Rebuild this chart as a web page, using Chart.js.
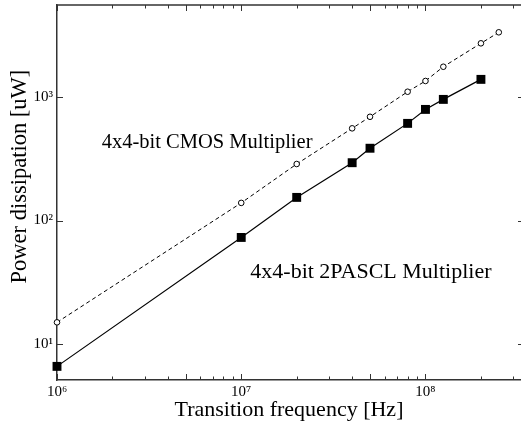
<!DOCTYPE html>
<html>
<head>
<meta charset="utf-8">
<script src="https://cdn.jsdelivr.net/npm/chart.js@4/dist/chart.umd.min.js"></script>
<style>
  body { margin: 0; background: #fff; }
  canvas { display: block; }
</style>
</head>
<body>
<canvas id="powerChart" width="521" height="426"></canvas>
<script>
// data (log-log)
var cmosFreq = [1e6, 1e7, 2e7, 4e7, 5e7, 8e7, 1e8, 1.25e8, 2e8, 2.5e8];
var cmosPower = [15, 139, 287, 558, 692, 1104, 1349, 1759, 2722, 3342];
var pasclFreq = [1e6, 1e7, 2e7, 4e7, 5e7, 8e7, 1e8, 1.25e8, 2e8];
var pasclPower = [6.6, 73, 154, 294, 385, 612, 794, 957, 1390];

var xDecades = [1e6, 1e7, 1e8];
var xTickLabels = ["10\u2076", "10\u2077", "10\u2078"];
var yDecades = [1e1, 1e2, 1e3];
var yTickLabels = ["10\u00b9", "10\u00b2", "10\u00b3"];

var cmosLabel = "4x4-bit CMOS Multiplier";
var pasclLabel = "4x4-bit 2PASCL Multiplier";
var yTitle = "Power dissipation [uW]";

var serif = "'Liberation Serif', 'Times New Roman', serif";
var axisColor = "#333";

function toPoints(xs, ys) {
  var pts = [];
  for (var i = 0; i < xs.length; ++i) {
    pts.push({ x: xs[i], y: ys[i] });
  }
  return pts;
}

function labelFor(value, values, labels) {
  for (var i = 0; i < values.length; ++i) {
    if (Math.abs(value / values[i] - 1) < 1e-6) return labels[i];
  }
  return "";
}

// inward tick marks on all four sides, top frame line, curve labels, y title
var framePlugin = {
  id: "frame",
  afterDraw: function (chart) {
    var ctx = chart.ctx;
    var area = chart.chartArea;
    var xs = chart.scales.x;
    var ys = chart.scales.y;
    ctx.save();
    ctx.strokeStyle = axisColor;
    ctx.lineWidth = 1.5;
    ctx.beginPath();
    ctx.moveTo(area.left, area.top);
    ctx.lineTo(area.right, area.top);
    ctx.stroke();

    ctx.lineWidth = 1;
    ctx.beginPath();
    xs.ticks.forEach(function (t) {
      var m = t.value / Math.pow(10, Math.floor(Math.log10(t.value) + 1e-9));
      m = Math.round(m * 100) / 100;
      if (m !== Math.round(m)) return;
      var len = m === 1 || m === 5 ? 6 : 3.5;
      var px = Math.round(xs.getPixelForValue(t.value)) + 0.5;
      ctx.moveTo(px, area.bottom);
      ctx.lineTo(px, area.bottom - len);
      ctx.moveTo(px, area.top);
      ctx.lineTo(px, area.top + len);
    });
    ys.ticks.forEach(function (t) {
      var py = Math.round(ys.getPixelForValue(t.value)) + 0.5;
      ctx.moveTo(area.left, py);
      ctx.lineTo(area.left + 6, py);
      ctx.moveTo(area.right, py);
      ctx.lineTo(area.right - 3, py);
    });
    ctx.stroke();

    ctx.fillStyle = "#000";
    ctx.textAlign = "left";
    ctx.textBaseline = "middle";
    ctx.font = "20.5px " + serif;
    ctx.fillText(cmosLabel, xs.getPixelForValue(1.75e6), ys.getPixelForValue(425));
    ctx.font = "22px " + serif;
    ctx.fillText(pasclLabel, xs.getPixelForValue(1.12e7), ys.getPixelForValue(38.5));

    // y axis title, a bit above the plot centre like the original
    ctx.translate(25.5, ys.getPixelForValue(227));
    ctx.rotate(-Math.PI / 2);
    ctx.textAlign = "center";
    ctx.textBaseline = "alphabetic";
    ctx.font = "22.5px " + serif;
    ctx.fillText(yTitle, 0, 0);
    ctx.restore();
  },
};

var ctx = document.getElementById("powerChart").getContext("2d");
var chart = new Chart(ctx, {
  type: "line",
  data: {
    datasets: [
      {
        label: cmosLabel,
        data: toPoints(cmosFreq, cmosPower),
        borderColor: "#000",
        borderWidth: 1,
        borderDash: [4, 3],
        pointStyle: "circle",
        pointRadius: 2.8,
        pointBackgroundColor: "#fff",
        pointBorderColor: "#000",
        pointBorderWidth: 1,
        clip: false,
      },
      {
        label: pasclLabel,
        data: toPoints(pasclFreq, pasclPower),
        borderColor: "#000",
        borderWidth: 1.2,
        pointStyle: "rect",
        pointRadius: 6.3,
        pointBackgroundColor: "#000",
        pointBorderColor: "#000",
        pointBorderWidth: 0,
        clip: false,
      },
    ],
  },
  options: {
    responsive: false,
    animation: false,
    events: [],
    // autoPadding off, otherwise the big square markers push the plot edge in
    layout: { autoPadding: false, padding: { top: 5, right: 0, left: 0, bottom: 0 } },
    plugins: {
      legend: { display: false },
      tooltip: { enabled: false },
    },
    scales: {
      x: {
        type: "logarithmic",
        position: "bottom",
        min: 1e6,
        max: 3.3e8,
        grid: { display: false },
        border: { display: true, color: axisColor, width: 1.5 },
        afterBuildTicks: function (scale) {
          var ticks = [];
          for (var e = 6; e <= 8; ++e) {
            for (var m = 1; m <= 9; ++m) {
              var v = m * Math.pow(10, e);
              if (v <= scale.max) ticks.push({ value: v });
            }
          }
          scale.ticks = ticks;
        },
        afterFit: function (scale) {
          scale.height = 46;
          scale.paddingLeft = 0;
          scale.paddingRight = 0;
        },
        ticks: {
          autoSkip: false,
          maxRotation: 0,
          padding: -5,
          color: "#000",
          font: { family: serif, size: 15 },
          callback: function (value) {
            return labelFor(value, xDecades, xTickLabels);
          },
        },
        title: {
          display: true,
          text: "Transition frequency [Hz]",
          color: "#000",
          font: { family: serif, size: 22 },
          padding: { top: 0, bottom: 3 },
        },
      },
      y: {
        type: "logarithmic",
        position: "left",
        min: 5.12,
        max: 5560,
        grid: { display: false },
        border: { display: true, color: axisColor, width: 1.5 },
        afterBuildTicks: function (scale) {
          scale.ticks = yDecades.map(function (v) {
            return { value: v };
          });
        },
        afterFit: function (scale) {
          scale.width = 57;
          scale.paddingTop = 0;
          scale.paddingBottom = 0;
        },
        ticks: {
          autoSkip: false,
          padding: -4,
          color: "#000",
          font: { family: serif, size: 15 },
          callback: function (value) {
            return labelFor(value, yDecades, yTickLabels);
          },
        },
      },
    },
  },
  plugins: [framePlugin],
});
</script>
</body>
</html>
